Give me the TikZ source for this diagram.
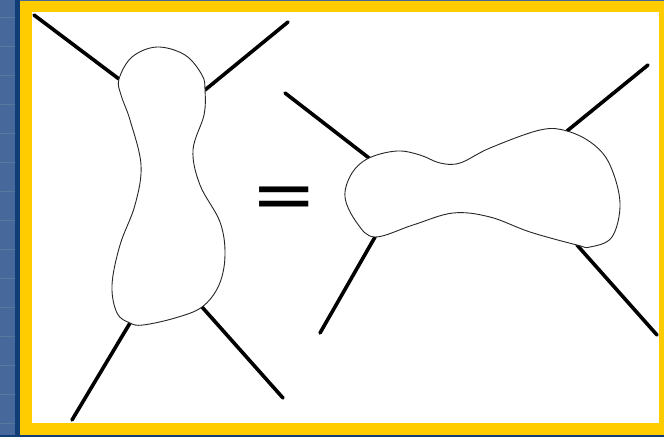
\documentclass[tikz,border=0pt]{standalone}
\usepackage{fontspec}
\setmainfont{Liberation Sans}
\usetikzlibrary{positioning, calc}
\definecolor{SlideBlue}{HTML}{46689A}
\definecolor{SlideNavy}{HTML}{113E76}
\definecolor{FrameYellow}{HTML}{FFCC00}

\begin{document}
\begin{tikzpicture}[x=1pt, y=-1pt,
  blob/.style={draw=black!85, line width=0.9pt, fill=white},
  leg/.style={draw=black, line width=3.6pt, line cap=round},
  eqsign/.style={font=\fontsize{53}{53}\selectfont\bfseries, inner sep=0pt, xscale=1.85}
]
% Slide background and frame
\useasboundingbox (0,0) rectangle (664,437);
\fill[SlideBlue] (0,0) rectangle (664,437);
\fill[SlideNavy] (15,0) rectangle (20,437);
\fill[SlideNavy] (0,435) rectangle (664,437);
\foreach \y in {17,46,...,430} {
  \draw[SlideNavy!70, line width=0.5pt] (0,\y) -- (15,\y);
}
\fill[FrameYellow] (20,1) rectangle (664,435);
\fill[white] (32,12) rectangle (659,423);

% Left diagram: vertical blob
\coordinate (lTL) at (119,79);
\coordinate (lTR) at (205,90);
\coordinate (lBL) at (130,323);
\coordinate (lBR) at (202,307);
\coordinate (lTLend) at (34,15);
\coordinate (lTRend) at (288,22);
\coordinate (lBLend) at (72,420);
\coordinate (lBRend) at (283,398);

\draw[leg] (lTL) -- (lTLend);
\draw[leg] (lTR) -- (lTRend);
\draw[leg] (lBL) -- (lBLend);
\draw[leg] (lBR) -- (lBRend);
\draw[blob] plot[smooth cycle, tension=0.6] coordinates {
  (119,79) (132,57) (157,47) (185,55) (202,75) (205,90) (204,115)
  (193,150) (200,185) (220,222) (225,255) (219,285) (202,307)
  (175,318) (143,325) (130,323) (117,313) (112,285) (120,245)
  (135,205) (141,165) (130,120) (121,95)};

% Equals sign
\node[eqsign] (equals) at (284.5,201) {=};

% Right diagram: horizontal blob
\coordinate (rTL) at (369,158);
\coordinate (rTR) at (567,131);
\coordinate (rBL) at (375,237);
\coordinate (rBR) at (577,245);
\coordinate (rTLend) at (285,93);
\coordinate (rTRend) at (648,65);
\coordinate (rBLend) at (320,333);
\coordinate (rBRend) at (657,335);

\draw[leg] (rTL) -- (rTLend);
\draw[leg] (rTR) -- (rTRend);
\draw[leg] (rBL) -- (rBLend);
\draw[leg] (rBR) -- (rBRend);
\draw[blob] plot[smooth cycle, tension=0.6] coordinates {
  (369,158) (397,151) (420,155) (440,163) (460,163) (490,148)
  (540,130) (567,131) (593,144) (610,165) (620,203) (612,237)
  (590,247) (577,245) (530,232) (490,217) (453,213) (413,225)
  (375,237) (357,223) (345,197) (352,173)};
\end{tikzpicture}
\end{document}
